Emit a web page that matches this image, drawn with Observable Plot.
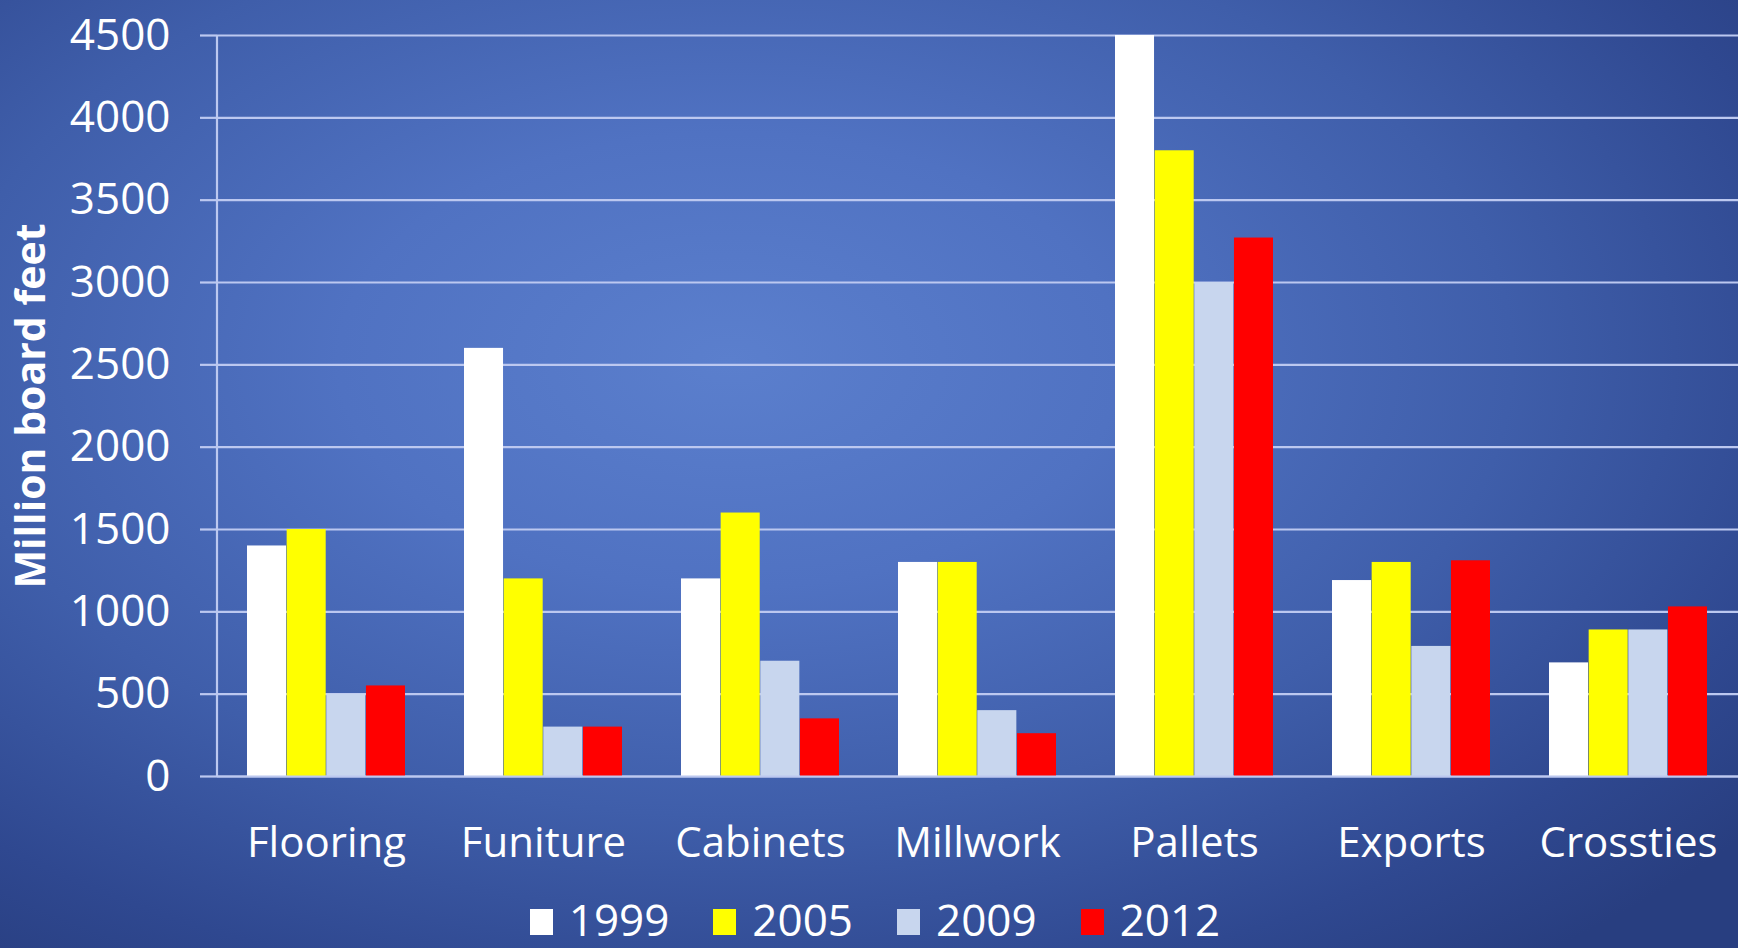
<!DOCTYPE html>
<html>
<head>
<meta charset="utf-8">
<script src="https://cdn.jsdelivr.net/npm/d3@7"></script>
<script src="https://cdn.jsdelivr.net/npm/@observablehq/plot@0.6"></script>
<style>
  html, body { margin: 0; padding: 0; width: 1738px; height: 948px; overflow: hidden; }
  body {
    background: radial-gradient(ellipse 75% 80% at 42% 38%, #5b7fcd 0%, #5072c2 30%, #3f5eaa 60%, #2f4890 85%, #283e80 100%);
    font-family: "Open Sans", sans-serif;
  }
  #chart svg { display: block; background: transparent; }
  #legend {
    display: flex; justify-content: center; align-items: center;
    height: 56px; color: #fff; font-size: 44px; line-height: 44px;
    padding-top: 11px; padding-left: 12px;
  }
  .item { display: flex; align-items: center; margin: 0 22px; }
  .sw { width: 23px; height: 26px; margin-right: 16px; margin-top: 6px; }
</style>
</head>
<body>
<div id="chart"></div>
<div id="legend"></div>
<script>
const categories = ["Flooring", "Funiture", "Cabinets", "Millwork", "Pallets", "Exports", "Crossties"];
const years = ["1999", "2005", "2009", "2012"];
const colors = ["#ffffff", "#ffff00", "#c8d6ee", "#ff0000"];
const v1999 = [1400, 2600, 1200, 1300, 4500, 1190, 690];
const v2005 = [1500, 1200, 1600, 1300, 3800, 1300, 890];
const v2009 = [500, 300, 700, 400, 3000, 790, 890];
const v2012 = [550, 300, 350, 260, 3270, 1310, 1030];
const yTicks = [0, 500, 1000, 1500, 2000, 2500, 3000, 3500, 4000, 4500];

const series = [v1999, v2005, v2009, v2012];
const data = [];
categories.forEach((c, i) => years.forEach((y, j) => data.push({category: c, year: y, value: series[j][i]})));

const W = 1738, H = 880;
const mL = 217, mR = 0, mT = 35, mB = H - 776;
const bw = (W - mL - mR) / (categories.length) * 0.73;
const grid = "#bcc8f0";

const barMarks = years.map((y, j) => Plot.barY(data.filter(d => d.year === y), {
  x: "category", y: "value", fill: colors[j],
  insetLeft: j * bw / 4, insetRight: (3 - j) * bw / 4
}));

const chart = Plot.plot({
  width: W, height: H,
  marginLeft: mL, marginRight: mR, marginTop: mT, marginBottom: mB,
  style: {background: "transparent", color: "#fff", fontFamily: "Open Sans, sans-serif"},
  x: {domain: categories, paddingInner: 0.27, paddingOuter: 0.135, label: null},
  y: {domain: [0, 4500], label: null},
  marks: [
    Plot.ruleY(yTicks, {stroke: grid, strokeWidth: 2.2}),
    ...barMarks,
    Plot.ruleY([0], {stroke: grid, strokeWidth: 2.2}),
    Plot.axisY({ticks: yTicks, tickSize: 17, tickPadding: 30, fontSize: 44, stroke: grid, strokeWidth: 2.2, tickFormat: d => String(d), label: null}),
    Plot.axisX({tickSize: 0, tickPadding: 51, fontSize: 42, label: null}),
    Plot.text(["Million board feet"], {
      frameAnchor: "left", textAnchor: "middle", dx: -186, rotate: -90, fontSize: 41, fontWeight: "bold", fill: "#fff"
    })
  ]
});

const svg = d3.select(chart);
svg.append("line").attr("x1", mL).attr("x2", mL).attr("y1", mT).attr("y2", 776)
  .attr("stroke", grid).attr("stroke-width", 2.2);

document.getElementById("chart").appendChild(chart);

const legend = document.getElementById("legend");
years.forEach((y, j) => {
  const item = document.createElement("div");
  item.className = "item";
  const sw = document.createElement("div");
  sw.className = "sw";
  sw.style.background = colors[j];
  const t = document.createElement("span");
  t.textContent = y;
  item.appendChild(sw); item.appendChild(t);
  legend.appendChild(item);
});
</script>
</body>
</html>
